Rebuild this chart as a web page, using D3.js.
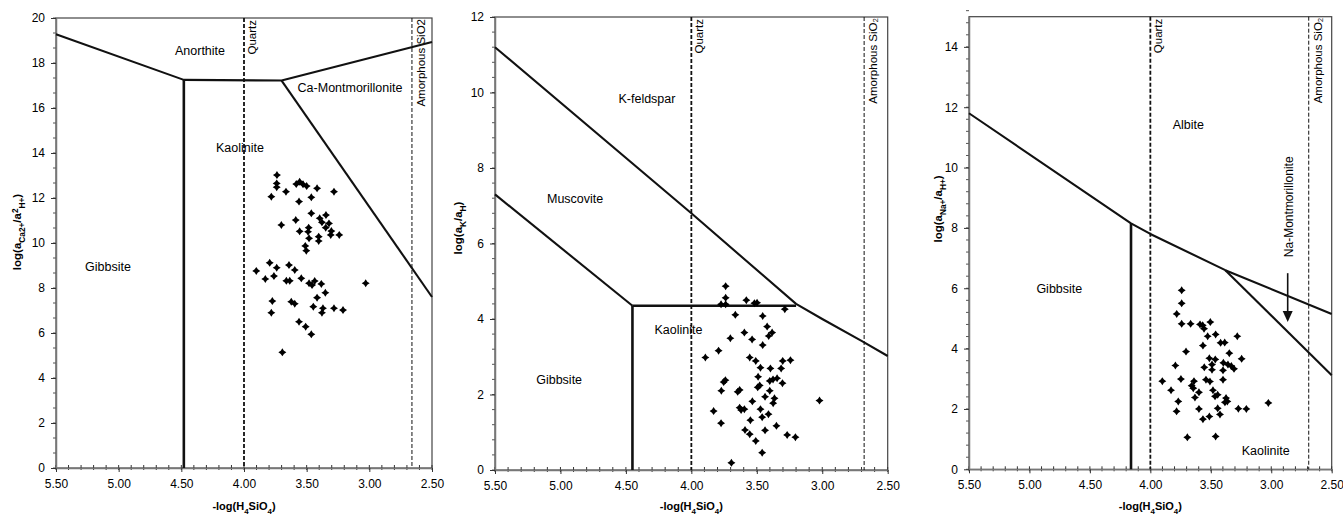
<!DOCTYPE html>
<html>
<head>
<meta charset="utf-8">
<script src="https://cdn.jsdelivr.net/npm/d3@7"></script>
<style>
body { margin: 0; background: #fff; }
text { font-family: Arial, "Liberation Sans", sans-serif; fill: #000; }
</style>
</head>
<body>
<div id="chart"></div>
<script>
var w = 1343;   // svg width
var h = 515;    // svg height

// x axis ticks, shared by all three diagrams
var xTickVals = [5.5, 5.0, 4.5, 4.0, 3.5, 3.0, 2.5];
var quartzSi = 4.0;

// Ca system: samples
var caX = [3.737, 3.739, 3.739, 3.782, 3.665, 3.583, 3.556, 3.529, 3.50, 3.417, 3.282, 3.561, 3.463, 3.463, 3.346, 3.396,
  3.378, 3.322, 3.587, 3.702, 3.556, 3.484, 3.489, 3.481, 3.404, 3.404, 3.348, 3.303, 3.308, 3.240, 3.511, 3.503,
  3.795, 3.902, 3.739, 3.830, 3.761, 3.641, 3.595, 3.662, 3.635, 3.543, 3.481, 3.457, 3.436, 3.383, 3.351, 3.417,
  3.029, 3.774, 3.782, 3.623, 3.595, 3.447, 3.370, 3.378, 3.282, 3.210, 3.561, 3.508, 3.463, 3.694];
var caY = [13.02, 12.65, 12.48, 12.06, 12.28, 12.62, 12.72, 12.61, 12.53, 12.43, 12.28, 11.84, 12.03, 11.32, 11.24, 11.10,
  10.92, 10.87, 11.02, 10.80, 10.52, 10.68, 10.50, 10.21, 10.28, 10.09, 10.68, 10.53, 10.36, 10.36, 9.87, 9.66,
  9.12, 8.76, 8.90, 8.40, 8.53, 9.02, 8.80, 8.32, 8.32, 8.43, 8.21, 8.13, 8.31, 8.18, 7.79, 7.57,
  8.21, 7.42, 6.90, 7.39, 7.30, 7.17, 7.10, 6.90, 7.10, 7.02, 6.50, 6.28, 5.94, 5.14];
// Ca system: phase boundaries
var caLines = [
  [[5.5, 19.28], [4.48, 17.25], [3.70, 17.22], [2.5, 18.93]],
  [[4.48, 17.25], [4.48, 0]],
  [[3.70, 17.22], [2.5, 7.6]]
];

// K system: samples
var kX = [3.738, 3.738, 3.773, 3.738, 3.580, 3.518, 3.498, 3.286, 3.664, 3.455, 3.421, 3.409, 3.383, 3.595, 3.702, 3.536,
  3.455, 3.792, 3.893, 3.554, 3.508, 3.472, 3.396, 3.302, 3.243, 3.314, 3.740, 3.753, 3.771, 3.490, 3.401, 3.376,
  3.345, 3.304, 3.493, 3.478, 3.646, 3.631, 3.401, 3.437, 3.365, 3.375, 3.534, 3.830, 3.631, 3.620, 3.595, 3.472,
  3.459, 3.411, 3.549, 3.773, 3.350, 3.590, 3.554, 3.437, 3.268, 3.205, 3.508, 3.459, 3.694, 3.021];
var kY = [4.87, 4.56, 4.39, 4.39, 4.50, 4.42, 4.43, 4.26, 4.11, 4.08, 3.80, 3.55, 3.64, 3.64, 3.49, 3.46,
  3.31, 3.16, 2.98, 2.98, 2.89, 2.71, 2.69, 2.89, 2.91, 2.69, 2.38, 2.33, 2.10, 2.47, 2.36, 2.40,
  2.43, 2.30, 2.19, 2.24, 2.07, 2.12, 2.10, 1.94, 1.90, 1.77, 1.82, 1.56, 1.65, 1.59, 1.61, 1.61,
  1.40, 1.48, 1.32, 1.24, 1.17, 1.06, 0.95, 1.05, 0.93, 0.87, 0.77, 0.46, 0.19, 1.84];
// K system: phase boundaries
var kLines = [
  [[5.5, 11.2], [4.0, 6.8], [3.2, 4.4], [3.0, 4.0], [2.7, 3.42], [2.5, 3.02]],
  [[5.5, 7.3], [4.45, 4.35]],
  [[4.45, 4.35], [3.2, 4.35]],
  [[4.45, 4.35], [4.45, 0]]
];

// Na system: samples
var naX = [3.741, 3.741, 3.782, 3.741, 3.667, 3.589, 3.567, 3.556, 3.504, 3.460, 3.526, 3.419, 3.385, 3.281, 3.565, 3.705,
  3.347, 3.512, 3.463, 3.245, 3.793, 3.554, 3.490, 3.490, 3.396, 3.358, 3.330, 3.308, 3.399, 3.901, 3.747, 3.639,
  3.540, 3.507, 3.399, 3.829, 3.658, 3.645, 3.598, 3.482, 3.443, 3.465, 3.374, 3.363, 3.383, 3.631, 3.769, 3.783,
  3.598, 3.443, 3.272, 3.206, 3.512, 3.565, 3.424, 3.024, 3.694, 3.460];
var naY = [5.93, 5.50, 5.15, 4.82, 4.82, 4.80, 4.77, 4.66, 4.88, 4.47, 4.41, 4.19, 4.20, 4.41, 4.10, 3.90,
  3.85, 3.68, 3.64, 3.66, 3.44, 3.38, 3.47, 3.30, 3.53, 3.47, 3.42, 3.33, 3.28, 2.92, 2.99, 2.92,
  2.97, 2.91, 2.97, 2.62, 2.77, 2.69, 2.55, 2.62, 2.47, 2.42, 2.36, 2.25, 2.22, 2.38, 2.25, 1.92,
  2.00, 2.02, 2.01, 2.00, 1.75, 1.66, 1.82, 2.20, 1.06, 1.09];
// Na system: phase boundaries
var naLines = [
  [[5.5, 11.8], [4.16, 8.15], [4.0, 7.8], [3.38, 6.6], [2.5, 5.15]],
  [[4.16, 8.15], [4.16, 0]],
  [[3.38, 6.6], [2.5, 3.12]]
];
var naArrow = [[2.864, 6.5], [2.864, 4.88]];

var panels = [
  { left: 56, right: 432, top: 18, bottom: 468, ymax: 20, yticks: d3.range(0, 21, 2), yminor: 2 / 3,
    xs: caX, ys: caY, lines: caLines, amorph: 2.66, amorphLabel: 'Amorphous SiO2',
    labels: [['Anorthite', 4.351, 18.53], ['Ca-Montmorillonite', 3.154, 16.89], ['Kaolinite', 4.032, 14.22], ['Gibbsite', 5.085, 8.93]],
    ytitle: [['log(a', 0], ['Ca2+', 1], ['/a', 0], ['2', -1], ['H+', 1], [')', 0]], ytx: 21, yty: 232 },
  { left: 495, right: 887.7, top: 17, bottom: 470, ymax: 12, yticks: d3.range(0, 13, 2), yminor: 0.4,
    xs: kX, ys: kY, lines: kLines, amorph: 2.68, amorphLabel: 'Amorphous SiO\u2082',
    labels: [['K-feldspar', 4.339, 9.83], ['Muscovite', 4.888, 7.18], ['Kaolinite', 4.098, 3.73], ['Gibbsite', 5.010, 2.40]],
    ytitle: [['log(a', 0], ['K', 1], ['/a', 0], ['H', 1], [')', 0]], ytx: 462, yty: 228 },
  { left: 969, right: 1331.7, top: 16.7, bottom: 469.3, ymax: 15, yticks: d3.range(0, 15, 2), yminor: 0.4,
    xs: naX, ys: naY, lines: naLines, amorph: 2.69, amorphLabel: 'Amorphous SiO\u2082',
    labels: [['Albite', 3.686, 11.42], ['Gibbsite', 4.753, 5.99], ['Kaolinite', 3.046, 0.61]],
    ytitle: [['log(a', 0], ['Na+', 1], ['/a', 0], ['H+', 1], [')', 0]], ytx: 942, yty: 209,
    arrow: naArrow }
];

var svg = d3.select('#chart').append('svg')
  .attr('width', w)
  .attr('height', h);

// small four-pointed diamond used for the samples
var marker = 'M0,-4L1.6,-1.6L4,0L1.6,1.6L0,4L-1.6,1.6L-4,0L-1.6,-1.6Z';

// writes text made of normal / subscript / superscript pieces
function richText (sel, parts, size) {
  var shift = 0;
  parts.forEach(function (p) {
    var target = p[1] * 3.5;
    sel.append('tspan')
      .attr('dy', target - shift)
      .style('font-size', p[1] === 0 ? size + 'px' : (size * 0.72) + 'px')
      .text(p[0]);
    shift = target;
  });
}

panels.forEach(function (p) {
  var x = d3.scaleLinear().domain([5.5, 2.5]).range([p.left, p.right]);
  var y = d3.scaleLinear().domain([0, p.ymax]).range([p.bottom, p.top]);
  var g = svg.append('g');

  // frame
  g.append('rect')
    .attr('x', p.left).attr('y', p.top)
    .attr('width', p.right - p.left).attr('height', p.bottom - p.top)
    .attr('fill', 'none').attr('stroke', '#444').attr('stroke-width', 1.2);

  // minor ticks on x (every 0.1) and y
  g.selectAll('.xminor').data(d3.range(0, 31).map(function (i) { return 2.5 + i * 0.1; }))
    .enter().append('line')
    .attr('x1', function (d) { return x(d); }).attr('x2', function (d) { return x(d); })
    .attr('y1', p.bottom - 3).attr('y2', p.bottom + 2)
    .attr('stroke', '#333').attr('stroke-width', 1);
  g.selectAll('.yminor').data(d3.range(0, Math.round(p.ymax / p.yminor) + 1).map(function (i) { return i * p.yminor; }))
    .enter().append('line')
    .attr('x1', p.left - 3).attr('x2', p.left)
    .attr('y1', function (d) { return y(d); }).attr('y2', function (d) { return y(d); })
    .attr('stroke', '#555').attr('stroke-width', 1);

  // axes
  var xa = g.append('g').attr('transform', 'translate(0,' + p.bottom + ')')
    .call(d3.axisBottom(x).tickValues(xTickVals).tickFormat(d3.format('.2f')).tickSizeInner(4).tickSizeOuter(0).tickPadding(7));
  var ya = g.append('g').attr('transform', 'translate(' + p.left + ',0)')
    .call(d3.axisLeft(y).tickValues(p.yticks).tickSizeInner(5).tickSizeOuter(0).tickPadding(6));
  [xa, ya].forEach(function (a) {
    a.select('.domain').attr('stroke', '#777').attr('stroke-width', 1.5);
    a.selectAll('.tick line').attr('stroke', '#333');
    a.selectAll('.tick text').style('font-size', '12px').style('font-family', 'Arial, "Liberation Sans", sans-serif').attr('fill', '#000');
  });

  // silica saturation lines
  g.append('line')
    .attr('x1', x(quartzSi)).attr('x2', x(quartzSi)).attr('y1', p.top).attr('y2', p.bottom)
    .attr('stroke', '#111').attr('stroke-width', 1.8).attr('stroke-dasharray', '4,2');
  g.append('line')
    .attr('x1', x(p.amorph)).attr('x2', x(p.amorph)).attr('y1', p.top).attr('y2', p.bottom)
    .attr('stroke', '#111').attr('stroke-width', 1).attr('stroke-dasharray', '4,2');
  g.append('text')
    .attr('transform', 'translate(' + (x(quartzSi) + 12) + ',' + (p.top + 2) + ') rotate(-90)')
    .attr('text-anchor', 'end').style('font-size', '11.5px').text('Quartz');
  g.append('text')
    .attr('transform', 'translate(' + (x(p.amorph) + 13) + ',' + (p.top + 1) + ') rotate(-90)')
    .attr('text-anchor', 'end').style('font-size', '11.5px').text(p.amorphLabel);

  // phase boundaries
  var line = d3.line().x(function (d) { return x(d[0]); }).y(function (d) { return y(d[1]); });
  g.selectAll('.bound').data(p.lines).enter().append('path')
    .attr('d', line)
    .attr('fill', 'none').attr('stroke', '#111')
    .attr('stroke-width', function (d) { return (d[0][0] === d[1][0] || d[0][1] === d[1][1]) ? 2.6 : 2.1; })
    .attr('stroke-linejoin', 'round');

  // field names
  g.selectAll('.lab').data(p.labels).enter().append('text')
    .attr('x', function (d) { return x(d[1]); })
    .attr('y', function (d) { return y(d[2]); })
    .attr('dy', '0.35em')
    .attr('text-anchor', 'middle')
    .style('font-size', '12.5px')
    .text(function (d) { return d[0]; });

  if (p.arrow) {
    var a0 = p.arrow[0], a1 = p.arrow[1];
    g.append('line')
      .attr('x1', x(a0[0])).attr('x2', x(a1[0]))
      .attr('y1', y(a0[1])).attr('y2', y(a1[1]) - 8)
      .attr('stroke', '#111').attr('stroke-width', 1.6);
    g.append('path')
      .attr('d', 'M' + (x(a1[0]) - 5) + ',' + (y(a1[1]) - 11) + 'L' + (x(a1[0]) + 5) + ',' + (y(a1[1]) - 11) + 'L' + x(a1[0]) + ',' + y(a1[1]) + 'Z')
      .attr('fill', '#111');
    g.append('text')
      .attr('transform', 'translate(' + (x(a0[0]) + 5) + ',' + y(8.70) + ') rotate(-90)')
      .attr('text-anchor', 'middle').style('font-size', '12px').text('Na-Montmorillonite');
  }

  // samples
  g.selectAll('.pt').data(p.xs).enter().append('path')
    .attr('d', marker)
    .attr('transform', function (d, i) { return 'translate(' + x(d) + ',' + y(p.ys[i]) + ')'; })
    .attr('fill', '#000');

  // axis titles
  var yt = g.append('text')
    .attr('transform', 'translate(' + p.ytx + ',' + p.yty + ') rotate(-90)')
    .attr('text-anchor', 'middle')
    .style('font-weight', 'bold');
  richText(yt, p.ytitle, 11.5);
  var xt = g.append('text')
    .attr('x', (p.left + p.right) / 2).attr('y', 510)
    .attr('text-anchor', 'middle')
    .style('font-weight', 'bold');
  richText(xt, [['-log(H', 0], ['4', 1], ['SiO', 0], ['4', 1], [')', 0]], 11);
});
</script>
</body>
</html>
